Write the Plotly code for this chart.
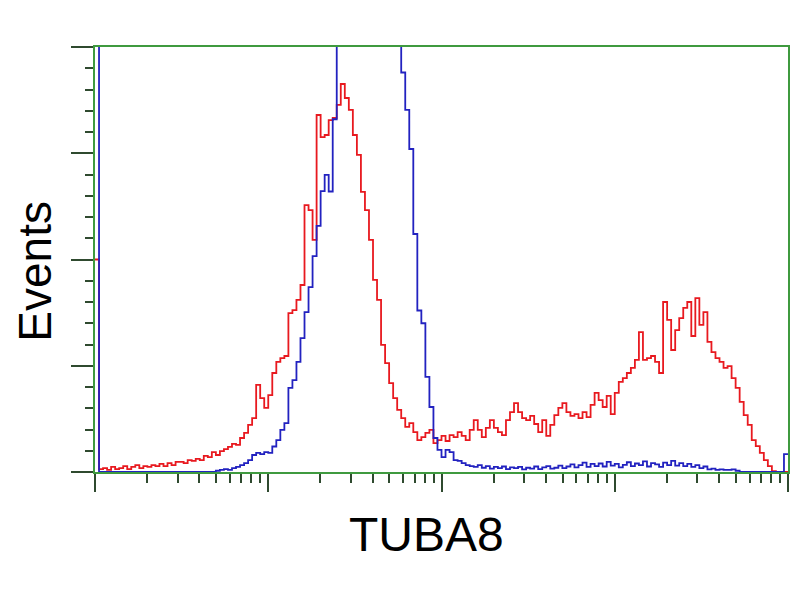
import numpy as np
import plotly.graph_objects as go

# Histogram channels: 172 log-spaced bins from 10^0 to 10^4 (TUBA8 fluorescence)
n_bins = 172
bin_edges = np.logspace(0, 4, n_bins + 1)

# Counts as percent of full scale (0-100); values above 100 are off-scale
red_counts = [
    50, 0.7, 0.9, 0.5, 1.2, 0.7, 0.9, 1.4, 0.7, 1.2,
    1.6, 0.9, 1.4, 1.2, 1.6, 1.4, 1.9, 1.4, 2.1, 1.6,
    2.4, 2.4, 2.1, 2.8, 2.6, 3.1, 2.8, 3.8, 3.5, 4.7,
    4.0, 4.9, 5.4, 5.9, 6.6, 6.4, 8.0, 9.2, 11.1, 12.7,
    20.5, 17.4, 15.1, 18.1, 23.3, 25.9, 26.8, 27.3, 37.4, 38.1,
    40.5, 44.0, 62.8, 61.6, 54.6, 84.0, 78.8, 79.3, 82.8, 83.3,
    86.4, 91.3, 88.0, 85.2, 79.3, 74.6, 65.9, 61.6, 54.6, 45.2,
    40.5, 29.9, 25.6, 20.9, 17.4, 14.6, 12.7, 10.6, 11.5, 9.4,
    7.5, 8.2, 9.2, 9.9, 6.8, 7.5, 8.5, 7.3, 8.7, 8.2,
    9.4, 8.5, 7.5, 9.9, 12.2, 9.9, 8.2, 10.4, 12.2, 10.4,
    9.4, 8.7, 12.2, 14.1, 16.2, 14.1, 12.7, 12.2, 13.2, 11.3,
    9.4, 12.2, 8.5, 11.1, 13.4, 15.1, 16.2, 14.1, 13.2, 13.6,
    12.7, 14.1, 12.9, 15.8, 18.6, 16.9, 15.3, 17.9, 13.6, 18.6,
    21.2, 22.1, 23.3, 24.5, 26.4, 32.9, 26.4, 26.8, 27.3, 25.9,
    23.3, 40.0, 35.8, 28.7, 33.4, 36.2, 38.6, 40.0, 32.0, 40.9,
    34.6, 37.6, 30.6, 28.2, 26.8, 25.9, 24.5, 24.9, 22.1, 19.8,
    16.5, 13.4, 11.1, 7.5, 6.1, 4.5, 2.8, 1.4, 0.2, 0,
    0, 0,
]

blue_counts = [
    130, 0, 0, 0, 0, 0, 0, 0, 0, 0,
    0, 0, 0, 0, 0, 0, 0, 0, 0, 0,
    0, 0, 0, 0, 0, 0, 0, 0, 0, 0,
    0.3, 0.5, 0.7, 0.5, 0.9, 1.2, 1.6, 2.1, 2.8, 4.0,
    4.5, 4.2, 4.7, 4.5, 6.0, 7.5, 9.9, 11.5, 19.8, 21.6,
    25.9, 31.5, 37.6, 43.5, 50.8, 57.9, 66.1, 69.9, 66.0, 83.0,
    110, 130, 150, 165, 175, 180, 182, 178, 170, 160,
    150, 140, 130, 120, 112, 105, 94.0, 85.2, 76.0, 56.0,
    38.0, 35.0, 22.4, 15.3, 8.0, 5.2, 3.5, 5.2, 4.7, 2.8,
    2.6, 2.1, 1.6, 1.4, 1.2, 1.6, 1.0, 1.4, 0.8, 1.2,
    0.9, 1.3, 0.7, 1.1, 0.9, 1.2, 0.6, 1.0, 0.8, 1.3,
    0.7, 1.1, 1.4, 0.8, 1.0, 1.5, 0.9, 1.3, 1.8, 1.1,
    1.6, 2.2, 1.2, 1.9, 1.4, 2.0, 1.3, 2.4, 1.5, 1.9,
    1.1, 1.7, 2.3, 1.4, 2.0, 1.6, 2.5, 1.3, 2.1, 1.8,
    1.2, 2.2, 1.6, 2.6, 1.5, 2.1, 1.4, 1.9, 1.2, 1.6,
    0.9, 1.3, 0.6, 0.8, 0.5, 0.6, 0.5, 0.5, 0.6, 0.3,
    0, 0, 0, 0, 0, 0, 0, 0, 0, 0,
    0, 4.2,
]

x_title = "TUBA8"
y_title = "Events"

RED = "#e8191f"
BLUE = "#2222c0"
GREEN = "#3f9a3f"
TICK = "#2f4a2f"


def step_xy(counts):
    # left edges + final right edge, with 'hv' shape => histogram outline
    xs = list(bin_edges[:-1]) + [bin_edges[-1]]
    ys = list(counts) + [counts[-1]]
    return xs, ys


fig = go.Figure()
for counts, color in ((red_counts, RED), (blue_counts, BLUE)):
    xs, ys = step_xy(counts)
    fig.add_trace(go.Scatter(
        x=xs, y=ys, mode="lines", line=dict(color=color, width=1.8, shape="hv"),
        showlegend=False, hoverinfo="skip",
    ))

fig.update_layout(
    width=800, height=600,
    margin=dict(l=87, r=20, t=39, b=136),
    paper_bgcolor="white", plot_bgcolor="white",
    font=dict(family="Liberation Sans, Arial, sans-serif", color="black"),
    annotations=[
        dict(text=x_title, xref="paper", yref="paper", x=0.479, y=-0.148,
             xanchor="center", yanchor="middle", showarrow=False,
             font=dict(size=48, color="black")),
        dict(text=y_title, xref="paper", yref="paper", x=-0.087, y=0.473,
             xanchor="center", yanchor="middle", showarrow=False, textangle=-90,
             font=dict(size=46, color="black")),
    ],
)

fig.update_xaxes(
    type="log", range=[0, 4], dtick=1,
    showgrid=False, zeroline=False, showticklabels=False,
    showline=True, mirror=True, linecolor=GREEN, linewidth=2,
    ticks="outside", ticklen=18, tickwidth=2, tickcolor=TICK,
    minor=dict(dtick="D1", ticks="outside", ticklen=9, tickwidth=1.5, tickcolor=TICK, showgrid=False),
    automargin=False,
)
fig.update_yaxes(
    range=[0, 100], dtick=25,
    showgrid=False, zeroline=False, showticklabels=False,
    showline=True, mirror=True, linecolor=GREEN, linewidth=2,
    ticks="outside", ticklen=22, tickwidth=2, tickcolor=TICK,
    minor=dict(dtick=5, ticks="outside", ticklen=8, tickwidth=1.5, tickcolor=TICK, showgrid=False),
    automargin=False,
)

fig.write_html("out.html")
